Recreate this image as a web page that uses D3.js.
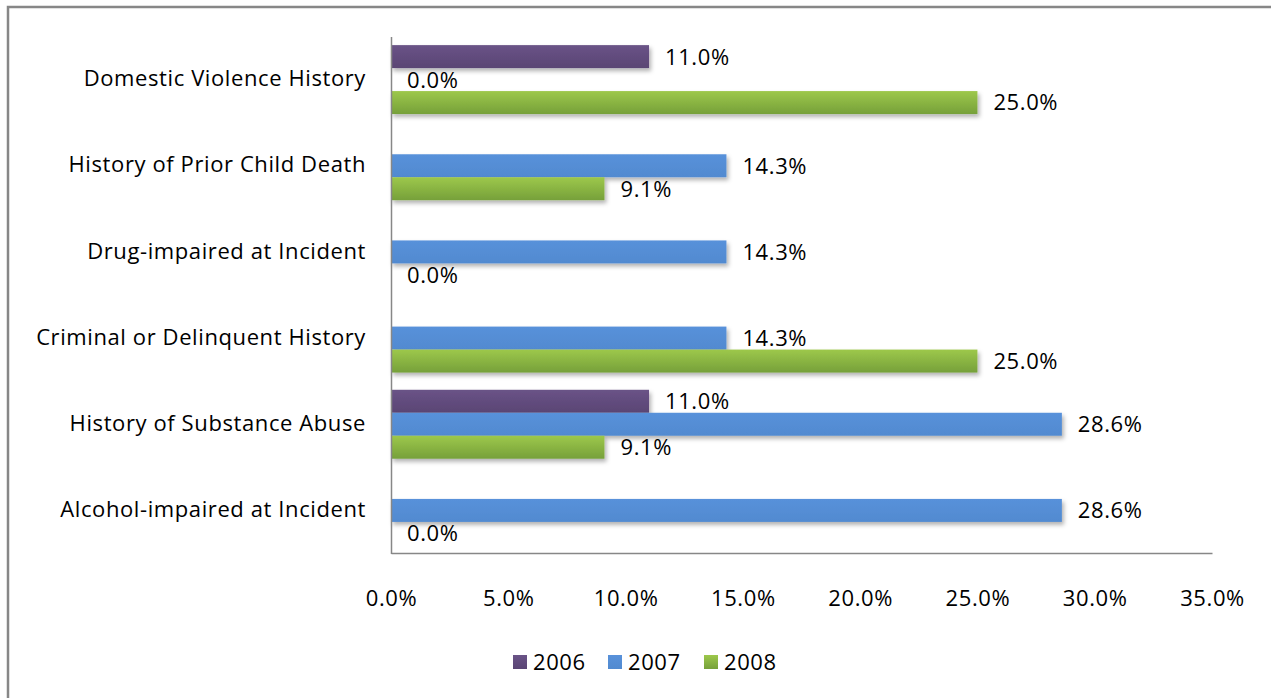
<!DOCTYPE html>
<html>
<head>
<meta charset="utf-8">
<script src="https://cdn.jsdelivr.net/npm/d3@7"></script>
<style>
  html, body { margin: 0; padding: 0; background: #fff; }
  svg { display: block; }
  text { font-family: "Open Sans", "Liberation Sans", sans-serif; fill: #000; letter-spacing: 0.6px; }
</style>
</head>
<body>
<svg id="chart" width="1271" height="698"></svg>
<script>
const categories = [
  "Domestic Violence History",
  "History of Prior Child Death",
  "Drug-impaired at Incident",
  "Criminal or Delinquent History",
  "History of Substance Abuse",
  "Alcohol-impaired at Incident"
];
const years = ["2006", "2007", "2008"];
// null = no bar and no label
const values2006 = [0.110, null, null, null, 0.110, null];
const values2007 = [0.000, 0.143, 0.143, 0.143, 0.286, 0.286];
const values2008 = [0.250, 0.091, 0.000, 0.250, 0.091, 0.000];
const xTicks = [0, 0.05, 0.10, 0.15, 0.20, 0.25, 0.30, 0.35];

const seriesValues = [values2006, values2007, values2008];

const svg = d3.select("#chart");
const defs = svg.append("defs");

// gradients
const gradStops = [
  ["#6a5387", "#5a4574"],
  ["#5891da", "#518ad0"],
  ["#9dc84b", "#76a03a"]
];
gradStops.forEach((s, i) => {
  const g = defs.append("linearGradient").attr("id", "grad" + i)
    .attr("x1", 0).attr("y1", 0).attr("x2", 0).attr("y2", 1);
  g.append("stop").attr("offset", "0%").attr("stop-color", s[0]);
  g.append("stop").attr("offset", "100%").attr("stop-color", s[1]);
});
const f = defs.append("filter").attr("id", "shadow")
  .attr("x", "-5%").attr("y", "-20%").attr("width", "115%").attr("height", "160%");
f.append("feDropShadow").attr("dx", 2).attr("dy", 3).attr("stdDeviation", 2)
  .attr("flood-color", "#000").attr("flood-opacity", 0.3);

// outer frame
svg.append("path")
  .attr("d", "M8,1400 L8,7 L1400,7")
  .attr("fill", "none").attr("stroke", "#878787").attr("stroke-width", 2.5);

const x = d3.scaleLinear().domain([0, 0.35]).range([391, 1212]);
const y = d3.scaleBand().domain(categories).range([36.5, 553.5])
  .paddingInner(0.2).paddingOuter(0.1);
const ySub = d3.scaleBand().domain(years).range([0, y.bandwidth()]);

// bars
years.forEach((yr, si) => {
  const data = categories.map((c, i) => ({ c, v: seriesValues[si][i] }))
    .filter(d => d.v !== null);
  const g = svg.append("g");
  g.selectAll("rect").data(data.filter(d => d.v > 0)).join("rect")
    .attr("x", x(0))
    .attr("y", d => y(d.c) + ySub(yr))
    .attr("width", d => x(d.v) - x(0))
    .attr("height", ySub.bandwidth())
    .attr("fill", `url(#grad${si})`)
    .attr("filter", "url(#shadow)");
  g.selectAll("text").data(data).join("text")
    .attr("x", d => x(d.v) + 16)
    .attr("y", d => y(d.c) + ySub(yr) + ySub.bandwidth() / 2)
    .attr("dy", "0.36em")
    .attr("font-size", 22)
    .text(d => d3.format(".1%")(d.v));
});

// axes
const xAxis = d3.axisBottom(x).tickValues(xTicks).tickFormat(d3.format(".1%"))
  .tickSize(0).tickPadding(0);
const gx = svg.append("g").attr("transform", "translate(0,553)").call(xAxis);
gx.select(".domain").attr("stroke", "#878787").attr("stroke-width", 1.5);
gx.selectAll("text").attr("font-size", 22).attr("y", 45).attr("dy", "0.36em")
  .style("font-family", '"Open Sans", sans-serif');

const yAxis = d3.axisLeft(y).tickSize(0).tickPadding(25);
const gy = svg.append("g").attr("transform", "translate(391,0)").call(yAxis);
gy.select(".domain").attr("stroke", "#878787").attr("stroke-width", 1.5);
gy.selectAll("text").attr("font-size", 22).attr("dy", "0.3em")
  .style("font-family", '"Open Sans", sans-serif');

// legend
const legendX = [513, 608, 704];
const lg = svg.append("g");
years.forEach((yr, i) => {
  lg.append("rect").attr("x", legendX[i]).attr("y", 655)
    .attr("width", 14).attr("height", 14).attr("fill", `url(#grad${i})`);
  lg.append("text").attr("x", legendX[i] + 20).attr("y", 662).attr("dy", "0.36em")
    .attr("font-size", 22).text(yr);
});
</script>
</body>
</html>
